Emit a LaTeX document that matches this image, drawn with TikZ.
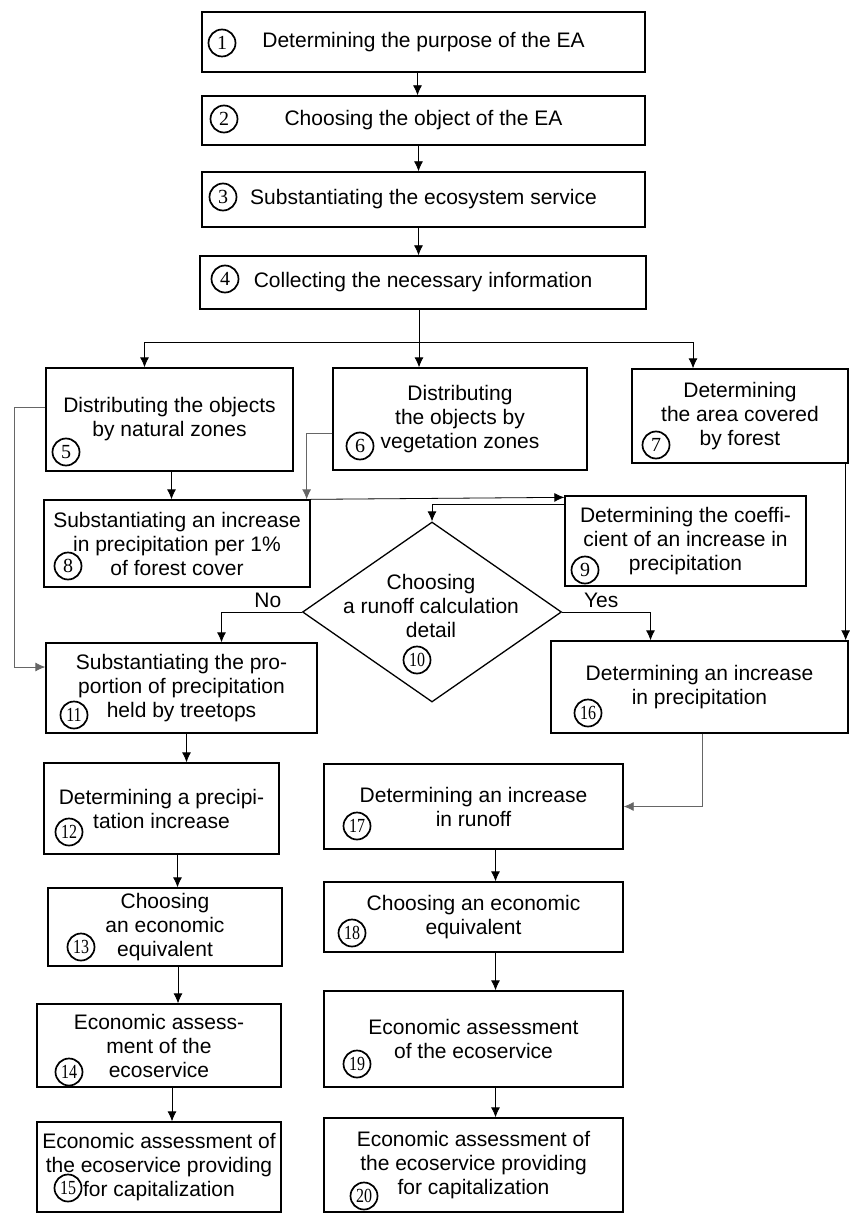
\documentclass[tikz,border=0pt]{standalone}
\usepackage{fontspec}
\setmainfont{Liberation Sans}
\newfontfamily\numfont{Liberation Serif}
\usetikzlibrary{calc,shapes.geometric,arrows.meta}

\begin{document}
\begin{tikzpicture}[x=1pt,y=-1pt,
     font=\fontsize{21}{24}\selectfont,
     block/.style = {draw, rectangle, line width=1.3pt, align=center, inner sep=0pt},
     decision/.style = {draw, diamond, line width=1.3pt, inner sep=0pt,
      minimum width=259pt, minimum height=180pt},
     num/.style = {draw, circle, line width=1.7pt, inner sep=0pt, minimum size=27pt,
      font=\numfont\fontsize{20}{20}\selectfont},
     answer/.style = {inner sep=0pt},
     arrow/.style = {draw, line width=0.8pt, -{Latex[length=10pt,width=9pt]}},
     greyline/.style = {draw=black!60}
    ]
    \useasboundingbox (0,0) rectangle (849,1214);

    % main chain
    \node [block, minimum width=443, minimum height=60] (b1) at (423.5,42) {Determining the purpose of the EA};
    \node [block, minimum width=443, minimum height=49] (b2) at (423.5,120.5) {Choosing the object of the EA};
    \node [block, minimum width=443, minimum height=55] (b3) at (423.5,199.5) {Substantiating the ecosystem service};
    \node [block, minimum width=446, minimum height=53] (b4) at (423,282.5) {Collecting the necessary information};

    \node [block, minimum width=247, minimum height=103] (b5) at (169.5,419.5) {Distributing the objects\\by natural zones};
    \node [block, minimum width=254, minimum height=102] (b6) at (460,419) {Distributing\\the objects by\\vegetation zones};
    \node [block, minimum width=216, minimum height=94] (b7) at (740,416) {Determining\\the area covered\\by forest};
    \node [block, minimum width=266, minimum height=87] (b8) at (177,543.5) {Substantiating an increase\\in precipitation per 1\%\\of forest cover};
    \node [block, minimum width=241, minimum height=90] (b9) at (685.5,541) {Determining the coeffi-\\cient of an increase in\\precipitation};
    \node [decision] (d10) at (432,612) {};
    \node [align=center] (t10) at (431,606) {Choosing\\a runoff calculation\\detail};

    % left branch
    \node [block, minimum width=271, minimum height=90] (b11) at (181.5,688) {Substantiating the pro-\\portion of precipitation\\held by treetops};
    \node [block, minimum width=235, minimum height=91] (b12) at (161.5,808.5) {Determining a precipi-\\tation increase};
    \node [block, minimum width=234, minimum height=78] (b13) at (165,927) {Choosing\\an economic\\equivalent};
    \node [block, minimum width=244, minimum height=83] (b14) at (159,1045.5) {Economic assess-\\ment of the\\ecoservice};
    \node [block, minimum width=244, minimum height=90] (b15) at (159,1167) {Economic assessment of\\the ecoservice providing\\for capitalization};

    % right branch
    \node [block, minimum width=297, minimum height=92] (b16) at (699.5,687) {Determining an increase\\in precipitation};
    \node [block, minimum width=299, minimum height=85] (b17) at (473.5,806.5) {Determining an increase\\in runoff};
    \node [block, minimum width=299, minimum height=70] (b18) at (473.5,917) {Choosing an economic\\equivalent};
    \node [block, minimum width=299, minimum height=96] (b19) at (473.5,1039) {Economic assessment\\of the ecoservice};
    \node [block, minimum width=299, minimum height=94] (b20) at (473.5,1165) {Economic assessment of\\the ecoservice providing\\for capitalization};

    % step numbers
    \node [num] (n1) at (222,43) {1};
    \node [num] (n2) at (224,119) {2};
    \node [num] (n3) at (223,197) {3};
    \node [num] (n4) at (225,279) {4};
    \node [num] (n5) at (66,452) {5};
    \node [num] (n6) at (360,446) {6};
    \node [num] (n7) at (656,445) {7};
    \node [num] (n8) at (68,566) {8};
    \node [num] (n9) at (585,570) {9};
    \node [num] (n10) at (417,660) {\scalebox{.8}[1]{10}};
    \node [num] (n11) at (74,715) {\scalebox{.8}[1]{11}};
    \node [num] (n12) at (69,832) {\scalebox{.8}[1]{12}};
    \node [num] (n13) at (81,947) {\scalebox{.8}[1]{13}};
    \node [num] (n14) at (69,1072) {\scalebox{.8}[1]{14}};
    \node [num] (n15) at (68,1188) {\scalebox{.8}[1]{15}};
    \node [num] (n16) at (588,713) {\scalebox{.8}[1]{16}};
    \node [num] (n17) at (357,826) {\scalebox{.8}[1]{17}};
    \node [num] (n18) at (352,933) {\scalebox{.8}[1]{18}};
    \node [num] (n19) at (357,1064) {\scalebox{.8}[1]{19}};
    \node [num] (n20) at (364,1196) {\scalebox{.8}[1]{20}};

    \node [answer] (no) at ($(d10.west)+(-34,-12)$) {No};
    \node [answer] (yes) at ($(d10.east)+(39,-12)$) {Yes};

    \draw[arrow] (b1.south) ++(-6,0) coordinate (a1) -- (a1 |- b2.north);
    \draw[arrow] (b2.south) ++(-5,0) coordinate (a2) -- (a2 |- b3.north);
    \draw[arrow] (b3.south) ++(-5,0) coordinate (a3) -- (a3 |- b4.north);
    \draw[arrow] (b4.south) ++(-4,0) coordinate (a4) -- (a4 |- b6.north);
    \coordinate (br) at ($(a4)+(0,33)$);
    \draw[arrow] (br) -| ([xshift=-25]b5.north);
    \draw[arrow] (br) -| ([xshift=-47]b7.north);

    \draw[arrow, greyline] ([yshift=12]b5.west) -- ++(-31,0) |- ([yshift=21]b11.west);
    \draw[arrow] (b5.south) ++(2,0) coordinate (a5) -- (a5 |- b8.north);
    \draw[arrow, greyline] ([yshift=-14]b6.west) -| ([xshift=-4]b8.north east);
    \draw[arrow] (b8.north east) -- ([yshift=-2]b9.north west);
    \draw[arrow] ([yshift=-9]b9.north west) -| (d10.north);
    \draw[arrow] (d10.west) -| ([xshift=40]b11.north);
    \draw[arrow] (d10.east) -| ([xshift=-49]b16.north);
    \draw[arrow] ([xshift=-3]b7.south east) -- ([xshift=-3]b16.north east);
    \draw[arrow, greyline] (b16.south) ++(3,0) coordinate (a16) |- (b17.east);

    \draw[arrow] (b11.south) ++(5,0) coordinate (a11) -- (a11 |- b12.north);
    \draw[arrow] (b12.south) ++(16,0) coordinate (a12) -- (a12 |- b13.north);
    \draw[arrow] (b13.south) ++(13,0) coordinate (a13) -- (a13 |- b14.north);
    \draw[arrow] (b14.south) ++(13,0) coordinate (a14) -- (a14 |- b15.north);
    \draw[arrow] (b17.south) ++(22,0) coordinate (a17) -- (a17 |- b18.north);
    \draw[arrow] (b18.south) ++(22,0) coordinate (a18) -- (a18 |- b19.north);
    \draw[arrow] (b19.south) ++(22,0) coordinate (a19) -- (a19 |- b20.north);

\end{tikzpicture}
\end{document}
